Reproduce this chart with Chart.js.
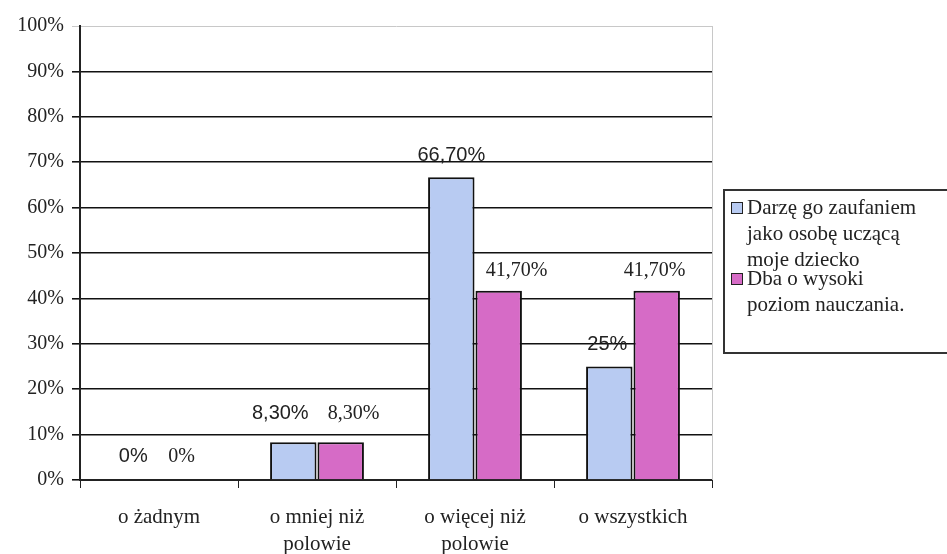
<!DOCTYPE html>
<html>
<head>
<meta charset="utf-8">
<script src="https://cdn.jsdelivr.net/npm/chart.js@4/dist/chart.umd.min.js"></script>
<style>
html,body{margin:0;padding:0;background:#fff;}
#wrap{position:relative;width:947px;height:554px;overflow:hidden;}
#legend{position:absolute;left:723px;top:189px;width:240px;height:165px;border:2px solid #333;box-sizing:border-box;
 font-family:"Liberation Serif","DejaVu Serif",serif;font-size:21px;line-height:26px;color:#222;padding:3px 4px 0 6px;}
.item{position:relative;padding-left:16px;white-space:nowrap;}
.item + .item{margin-top:-7px;}
.sw{position:absolute;left:0;top:8px;width:10px;height:10px;border:1.5px solid #222;}
</style>
</head>
<body>
<div id="wrap">
<canvas id="c" width="947" height="554"></canvas>
<div id="legend"></div>
</div>
<script>
const categories = [["o żadnym"], ["o mniej niż","polowie"], ["o więcej niż","polowie"], ["o wszystkich"]];
const seriesNames = [["Darzę go zaufaniem","jako osobę uczącą","moje dziecko"], ["Dba o wysoki","poziom nauczania."]];
const trust = [0, 8.3, 66.7, 25];
const level = [0, 8.3, 41.7, 41.7];
const trustLabels = ["0%", "8,30%", "66,70%", "25%"];
const levelLabels = ["0%", "8,30%", "41,70%", "41,70%"];
const yTicks = [0,10,20,30,40,50,60,70,80,90,100];
const colors = ["#b8cbf2", "#d66bc6"];

const lg = document.getElementById('legend');
seriesNames.forEach((n,i)=>{
  const d = document.createElement('div'); d.className='item';
  d.innerHTML = '<span class="sw" style="background:'+colors[i]+'"></span>' + n.join('<br>');
  lg.appendChild(d);
});

// label offsets relative to bar top-centre [dx, dy]
const labelShift = [
  [[-2,-18],[-13,-23],[0,-16],[-2,-17]],
  [[-1,-18],[13,-23],[18,-15],[-2,-15]]
];
const labelFonts = ['20px "Liberation Sans", Arial, sans-serif', '20px "Liberation Serif", serif'];

const labelPlugin = {
  id:'labels',
  afterDatasetsDraw(chart){
    const ctx = chart.ctx;
    ctx.save();
    ctx.fillStyle = '#222';
    ctx.textAlign = 'center';
    ctx.textBaseline = 'alphabetic';
    const lbls = [trustLabels, levelLabels];
    chart.data.datasets.forEach((ds, di)=>{
      ctx.font = labelFonts[di];
      const meta = chart.getDatasetMeta(di);
      meta.data.forEach((bar, i)=>{
        const s = labelShift[di][i];
        ctx.fillText(lbls[di][i], bar.x + s[0], bar.y + s[1]);
      });
    });
    const a = chart.chartArea;
    ctx.strokeStyle = '#c8c8c8';
    ctx.lineWidth = 1;
    ctx.beginPath(); ctx.moveTo(a.right+0.5, a.top); ctx.lineTo(a.right+0.5, a.bottom); ctx.stroke();
    ctx.restore();
  }
};

new Chart(document.getElementById('c'), {
  type:'bar',
  data:{
    labels: categories,
    datasets:[
      {label: seriesNames[0].join(' '), data: trust, backgroundColor: colors[0], borderColor:'#111', borderWidth:2, borderSkipped:'bottom'},
      {label: seriesNames[1].join(' '), data: level, backgroundColor: colors[1], borderColor:'#111', borderWidth:2, borderSkipped:'bottom'}
    ]
  },
  options:{
    responsive:false,
    animation:false,
    datasets:{bar:{categoryPercentage:0.6, barPercentage:0.98}},
    layout:{padding:{top:26, right:235, left:0, bottom:0}},
    plugins:{legend:{display:false}, tooltip:{enabled:false}},
    scales:{
      x:{
        grid:{drawOnChartArea:false, drawTicks:true, tickLength:8, color:'#222', offset:true},
        border:{color:'#222', width:2},
        ticks:{color:'#222', font:{family:'"Liberation Serif", serif', size:21, lineHeight:1.3}, padding:16, maxRotation:0, autoSkip:false},
        afterFit(s){ s.height = 74; }
      },
      y:{
        min:0, max:100,
        afterBuildTicks(s){ s.ticks = yTicks.map(v=>({value:v})); },
        grid:{color:(c)=> c.tick && c.tick.value===100 ? '#c8c8c8' : '#111', lineWidth:(c)=> c.tick && c.tick.value===100 ? 1 : 1.6, tickLength:8},
        border:{color:'#222', width:2},
        ticks:{color:'#222', font:{family:'"Liberation Serif", serif', size:20}, padding:8, callback:(v)=>v+'%'},
        afterFit(s){ s.width = 80; }
      }
    }
  },
  plugins:[labelPlugin]
});
</script>
</body>
</html>
